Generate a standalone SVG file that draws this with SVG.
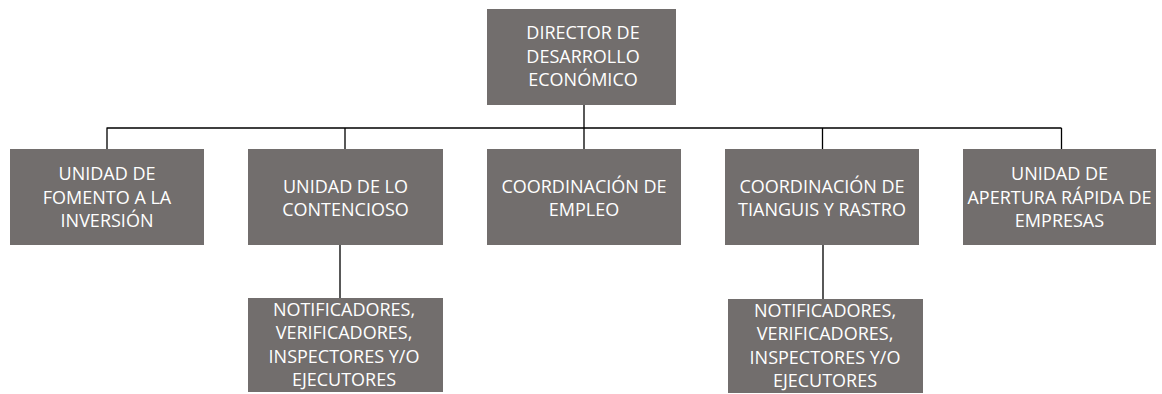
<svg xmlns="http://www.w3.org/2000/svg" width="1162" height="394" viewBox="0 0 1162 394">
<style>
.box{fill:#726e6d}
.t{font-family:"Open Sans","Liberation Sans",sans-serif;font-size:18px;fill:#ffffff;text-anchor:middle}
.c{stroke:#000;stroke-width:1.3;fill:none}
</style>
<rect width="1162" height="394" fill="#ffffff"/>
<g id="connectors">
<path class="c" d="M584 105V128M106.5 128H1061.5M107 128V149M345 128V149M584 128V149M822.5 128V149M1061.5 128V149M340 245V298M823 245V299"/>
</g>
<g id="director">
<rect class="box" x="487" y="9" width="189" height="96"/>
<text class="t"><tspan x="583" y="39">DIRECTOR DE</tspan><tspan x="583" y="62.5">DESARROLLO</tspan><tspan x="583" y="86">ECONÓMICO</tspan></text>
</g>
<g id="fomento">
<rect class="box" x="10" y="149" width="194" height="96"/>
<text class="t"><tspan x="107" y="180">UNIDAD DE</tspan><tspan x="107" y="203.5">FOMENTO A LA</tspan><tspan x="107" y="227">INVERSIÓN</tspan></text>
</g>
<g id="contencioso">
<rect class="box" x="248" y="149" width="195" height="96"/>
<text class="t"><tspan x="345.5" y="193">UNIDAD DE LO</tspan><tspan x="345.5" y="216">CONTENCIOSO</tspan></text>
</g>
<g id="empleo">
<rect class="box" x="487" y="149" width="194" height="96"/>
<text class="t"><tspan x="584" y="193">COORDINACIÓN DE</tspan><tspan x="584" y="216">EMPLEO</tspan></text>
</g>
<g id="tianguis">
<rect class="box" x="725" y="149" width="194" height="96"/>
<text class="t"><tspan x="822" y="193">COORDINACIÓN DE</tspan><tspan x="822" y="216">TIANGUIS Y RASTRO</tspan></text>
</g>
<g id="apertura">
<rect class="box" x="963" y="149" width="193" height="96"/>
<text class="t"><tspan x="1059.5" y="180">UNIDAD DE</tspan><tspan x="1059.5" y="203.5">APERTURA RÁPIDA DE</tspan><tspan x="1059.5" y="227">EMPRESAS</tspan></text>
</g>
<g id="notificadores1">
<rect class="box" x="248" y="298" width="195" height="94"/>
<text class="t"><tspan x="344" y="316">NOTIFICADORES,</tspan><tspan x="344" y="339">VERIFICADORES,</tspan><tspan x="344" y="362.5">INSPECTORES Y/O</tspan><tspan x="344" y="385.5">EJECUTORES</tspan></text>
</g>
<g id="notificadores2">
<rect class="box" x="728" y="299" width="195" height="94"/>
<text class="t"><tspan x="825" y="317">NOTIFICADORES,</tspan><tspan x="825" y="340">VERIFICADORES,</tspan><tspan x="825" y="363.5">INSPECTORES Y/O</tspan><tspan x="825" y="386.5">EJECUTORES</tspan></text>
</g>
</svg>
